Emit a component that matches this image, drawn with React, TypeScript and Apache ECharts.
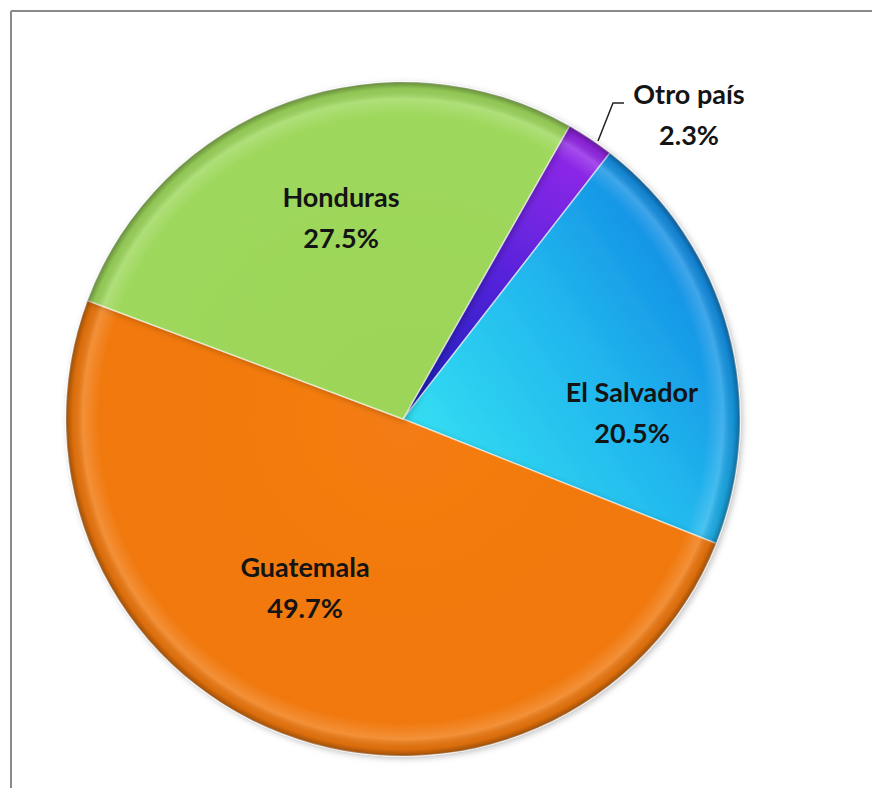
import React, { useEffect, useRef } from "react";
import * as echarts from "echarts";

const countries = ["Otro país", "El Salvador", "Guatemala", "Honduras"];
const shares = [2.3, 20.5, 49.7, 27.5];

const CX = 403;
const CY = 419;
const R = 337;

// label anchor positions (layout only)
const labelPos: [number, number][] = [
  [689, 114],
  [632, 412],
  [305, 587],
  [341, 217],
];

const fills = [
  { type: "linear", global: true, x: 600, y: 140, x2: 420, y2: 400, colorStops: [{ offset: 0, color: "#9A28EA" }, { offset: 0.5, color: "#5A24DC" }, { offset: 1, color: "#1E20C0" }] },
  { type: "linear", global: true, x: 430, y: 470, x2: 740, y2: 260, colorStops: [{ offset: 0, color: "#34E0F2" }, { offset: 0.5, color: "#22B8EE" }, { offset: 1, color: "#0F84E2" }] },
  { type: "radial", global: true, x: CX, y: CY, r: R, colorStops: [{ offset: 0, color: "#F47C12" }, { offset: 1, color: "#F0780E" }] },
  { type: "radial", global: true, x: CX, y: CY, r: R, colorStops: [{ offset: 0, color: "#9CD558" }, { offset: 1, color: "#9ED85C" }] },
];

export default function App() {
  const ref = useRef<HTMLDivElement>(null);
  useEffect(() => {
    if (!ref.current) return;
    document.body.style.margin = "0";
    document.body.style.overflow = "hidden";
    const chart = echarts.init(ref.current, null, { renderer: "svg" });
    const data = countries.map((name, i) => ({
      name,
      value: shares[i],
      itemStyle: { color: fills[i] as any },
      label: i === 0 ? { position: "outside" } : undefined,
      labelLine: i === 0 ? { show: true } : undefined,
    }));
    chart.setOption({
      animation: false,
      backgroundColor: "#ffffff",
      graphic: [
        {
          type: "line",
          shape: { x1: 11, y1: 11, x2: 872, y2: 11 },
          style: { stroke: "#8a8a8a", lineWidth: 2 },
          silent: true,
        },
        {
          type: "line",
          shape: { x1: 11, y1: 11, x2: 11, y2: 788 },
          style: { stroke: "#8a8a8a", lineWidth: 2 },
          silent: true,
        },
      ],
      series: [
        {
          type: "pie",
          center: [CX, CY],
          radius: [0, R],
          startAngle: 60.4,
          clockwise: true,
          data,
          itemStyle: {
            borderColor: "rgba(255,255,255,0.55)",
            borderWidth: 1.5,
            shadowBlur: 6,
            shadowColor: "rgba(0,0,0,0.25)",
            shadowOffsetX: 2,
            shadowOffsetY: 2,
          },
          label: {
            show: true,
            position: "inside",
            formatter: "{b}\n{c}%",
            fontFamily: "Lato, 'Open Sans', sans-serif",
            fontWeight: "bold",
            fontSize: 27,
            lineHeight: 41,
            color: "#141414",
            align: "center",
          },
          labelLine: {
            show: false,
            lineStyle: { color: "#222", width: 1.5 },
            length: 20,
            length2: 10,
          },
          labelLayout: (params: any) => {
            const p = labelPos[params.dataIndex];
            const out: any = { x: p[0], y: p[1], align: "center", verticalAlign: "middle" };
            if (params.dataIndex === 0) {
              out.labelLinePoints = [
                [598, 141],
                [613, 103],
                [624, 103],
              ];
            }
            return out;
          },
          emphasis: { disabled: true },
        },
        {
          type: "pie",
          center: [CX, CY],
          radius: [0, R],
          startAngle: 60.4,
          clockwise: true,
          silent: true,
          data: countries.map((name, i) => ({ name, value: shares[i] })),
          label: { show: false },
          labelLine: { show: false },
          itemStyle: {
            color: {
              type: "radial",
              global: true,
              x: CX,
              y: CY,
              r: R,
              colorStops: [
                { offset: 0, color: "rgba(0,0,0,0)" },
                { offset: 0.9, color: "rgba(255,255,255,0)" },
                { offset: 0.95, color: "rgba(255,255,255,0.18)" },
                { offset: 0.98, color: "rgba(0,0,0,0.08)" },
                { offset: 1, color: "rgba(0,0,0,0.35)" },
              ],
            } as any,
            borderWidth: 0,
          },
          emphasis: { disabled: true },
        },
      ],
    });
    return () => chart.dispose();
  }, []);
  return (
    <div
      ref={ref}
      style={{ position: "fixed", left: 0, top: 0, width: 872, height: 788, background: "#fff", overflow: "hidden" }}
    />
  );
}
